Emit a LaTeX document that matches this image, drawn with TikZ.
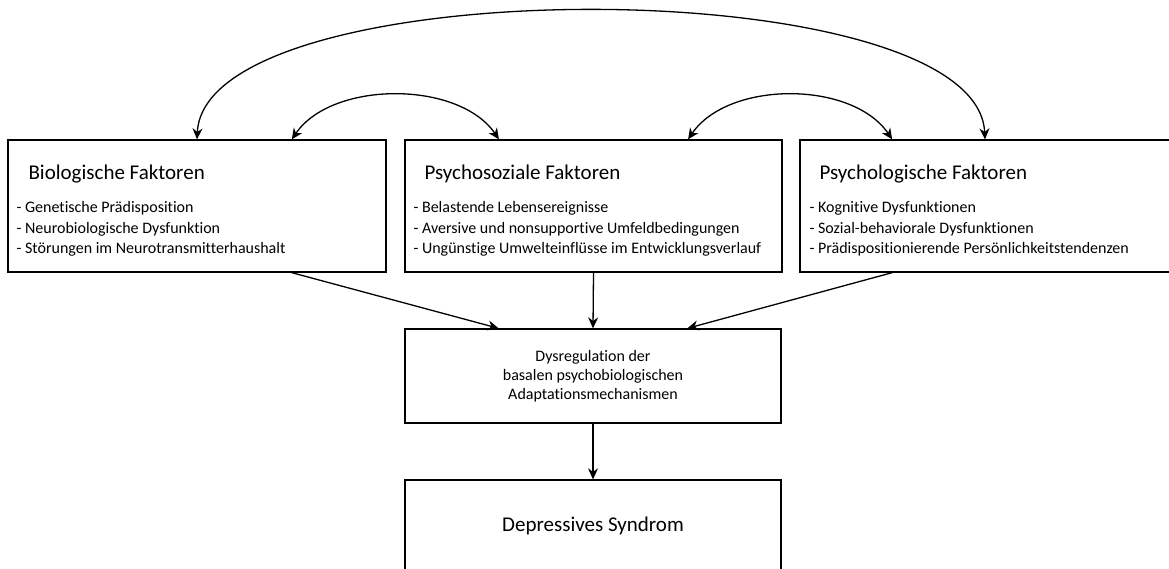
\documentclass[tikz,border=0pt]{standalone}
\usepackage{fontspec}
\setmainfont{Carlito}[Ligatures=NoCommon]
\usetikzlibrary{arrows.meta,calc}

\begin{document}
\begin{tikzpicture}[x=1pt, y=-1pt,
    box/.style={draw=borderColour, line width=1.3pt, rectangle, inner sep=0pt},
    heading/.style={anchor=west, inner sep=0pt, font=\fontsize{21}{24}\selectfont},
    itemlist/.style={anchor=west, align=left, inner sep=0pt, font=\fontsize{16}{20.5}\selectfont},
    link/.style={line width=1.3pt, -{Stealth[length=11pt, width=10pt]}},
    twoway/.style={line width=1.3pt, {Stealth[length=11pt, width=10pt]}-{Stealth[length=11pt, width=10pt]}}]
    % Define colours
    \definecolor{borderColour}{HTML}{000000}

    % Fix the page size
    \useasboundingbox (0,0) rectangle (1169,568);

    % Draw the three factor boxes
    \node[box, minimum width=378pt, minimum height=132pt] (bio) at (197,206) {};
    \node[box, minimum width=377pt, minimum height=132pt] (psysoz) at (593.5,206) {};
    \node[box, minimum width=370pt, minimum height=132pt] (psylog) at (985,206) {};

    % Draw the lower boxes
    \node[box, minimum width=376pt, minimum height=94pt] (dysreg) at (593,376)
        {\parbox{376pt}{\centering\fontsize{16}{19}\selectfont Dysregulation der\\basalen psychobiologischen\\Adaptationsmechanismen}};
    \node[box, minimum width=376pt, minimum height=92pt] (depr) at (593,526)
        {\fontsize{21}{24}\selectfont Depressives Syndrom};

    % Label the factor boxes
    \node[heading] (bioTitle) at ($(bio.north west)+(21,35)$) {Biologische Faktoren};
    \node[itemlist] (bioList) at ($(bio.north west)+(9,89.5)$)
        {- Genetische Prädisposition\\- Neurobiologische Dysfunktion\\- Störungen im Neurotransmitterhaushalt};
    \node[heading] (psysozTitle) at ($(psysoz.north west)+(20,35)$) {Psychosoziale Faktoren};
    \node[itemlist] (psysozList) at ($(psysoz.north west)+(9,89.5)$)
        {- Belastende Lebensereignisse\\- Aversive und nonsupportive Umfeldbedingungen\\- Ungünstige Umwelteinflüsse im Entwicklungsverlauf};
    \node[heading] (psylogTitle) at ($(psylog.north west)+(20,35)$) {Psychologische Faktoren};
    \node[itemlist] (psylogList) at ($(psylog.north west)+(10,89.5)$)
        {- Kognitive Dysfunktionen\\- Sozial-behaviorale Dysfunktionen\\- Prädispositionierende Persönlichkeitstendenzen};

    % Define coordinates on the box edges (quarter points)
    \coordinate (bioTopR) at ($(bio.north west)!0.75!(bio.north east)$);
    \coordinate (bioBotR) at ($(bio.south west)!0.75!(bio.south east)$);
    \coordinate (psysozTopL) at ($(psysoz.north west)!0.25!(psysoz.north east)$);
    \coordinate (psysozTopR) at ($(psysoz.north west)!0.75!(psysoz.north east)$);
    \coordinate (psylogTopL) at ($(psylog.north west)!0.25!(psylog.north east)$);
    \coordinate (psylogBotL) at ($(psylog.south west)!0.25!(psylog.south east)$);
    \coordinate (dysregTopL) at ($(dysreg.north west)!0.25!(dysreg.north east)$);
    \coordinate (dysregTopR) at ($(dysreg.north west)!0.75!(dysreg.north east)$);

    % Draw the mutual influences
    \draw[twoway] (bio.north) .. controls ($(bio.north)+(8,-171)$) and ($(psylog.north)+(-8,-171)$) .. (psylog.north);
    \draw[twoway] (bioTopR) .. controls ($(bioTopR)+(40,-59)$) and ($(psysozTopL)+(-40,-59)$) .. (psysozTopL);
    \draw[twoway] (psysozTopR) .. controls ($(psysozTopR)+(40,-59)$) and ($(psylogTopL)+(-40,-59)$) .. (psylogTopL);

    % Draw the arrows down to the syndrome
    \draw[link] (bioBotR) -- (dysregTopL);
    \draw[link] (psysoz.south) -- (dysreg.north);
    \draw[link] (psylogBotL) -- (dysregTopR);
    \draw[link] (dysreg.south) -- (depr.north);

\end{tikzpicture}
\end{document}
